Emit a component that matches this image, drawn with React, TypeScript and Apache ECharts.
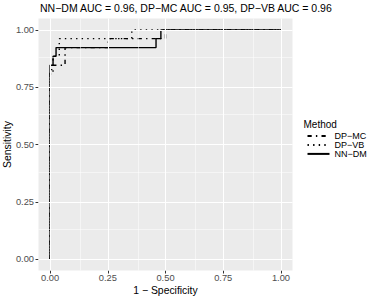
import React, { useEffect, useRef } from "react";
import * as echarts from "echarts";

// ROC curves: 1 - specificity (FPR) and sensitivity (TPR)
const nnDmFpr = [0, 0, 0.013, 0.013, 0.026, 0.026, 0.459, 0.459, 0.48, 0.48, 1];
const nnDmTpr = [0, 0.846, 0.846, 0.885, 0.885, 0.923, 0.923, 0.962, 0.962, 1, 1];

const dpMcFpr = [0, 0, 0.013, 0.013, 0.065, 0.065, 0.252, 0.252, 0.5, 0.5, 1];
const dpMcTpr = [0, 0.808, 0.808, 0.846, 0.846, 0.923, 0.923, 0.962, 0.962, 1, 1];

const dpVbFpr = [0, 0, 0.013, 0.013, 0.04, 0.04, 0.354, 0.354, 1];
const dpVbTpr = [0, 0.827, 0.827, 0.885, 0.885, 0.962, 0.962, 1, 1];

const methods = ["DP\u2212MC", "DP\u2212VB", "NN\u2212DM"];
const titleText = "NN\u2212DM AUC = 0.96, DP\u2212MC AUC = 0.95, DP\u2212VB AUC = 0.96";
const majorTicks = [0, 0.25, 0.5, 0.75, 1];
const minorTicks = [0.125, 0.375, 0.625, 0.875];

const FONT = "'Liberation Sans', Arial, Helvetica, sans-serif";

function pairs(xs: number[], ys: number[]) {
  return xs.map((x, i) => [x, ys[i]]);
}

export default function App() {
  const ref = useRef<HTMLDivElement>(null);
  useEffect(() => {
    document.body.style.margin = "0";
    if (!ref.current) return;
    const chart = echarts.init(ref.current, null, { renderer: "svg" });
    const lw = 1.4;
    const axisCommon = {
      type: "value",
      min: -0.05,
      max: 1.05,
      axisLine: { show: false, onZero: false },
      axisTick: {
        show: true,
        customValues: majorTicks,
        length: 3,
        lineStyle: { color: "#333333", width: 1 },
      },
      splitLine: { show: false },
    };
    const gridLines = [
      ...majorTicks.map((v) => ({ xAxis: v, lineStyle: { width: 1.07 } })),
      ...majorTicks.map((v) => ({ yAxis: v, lineStyle: { width: 1.07 } })),
      ...minorTicks.map((v) => ({ xAxis: v, lineStyle: { width: 0.53 } })),
      ...minorTicks.map((v) => ({ yAxis: v, lineStyle: { width: 0.53 } })),
    ];
    chart.setOption({
      animation: false,
      textStyle: { fontFamily: FONT },
      title: [
        {
          text: titleText,
          left: 40,
          top: 2.5,
          padding: 0,
          textStyle: { fontSize: 10.5, fontWeight: "normal", color: "#000", fontFamily: FONT },
        },
        {
          text: "Method",
          left: 303.5,
          top: 119,
          padding: 0,
          textStyle: { fontSize: 10, fontWeight: "normal", color: "#000", fontFamily: FONT },
        },
      ],
      grid: {
        left: 38.5,
        right: 89.5,
        top: 18.5,
        bottom: 29.5,
        show: true,
        backgroundColor: "#EBEBEB",
        borderWidth: 0,
        containLabel: false,
      },
      xAxis: {
        ...axisCommon,
        axisLabel: {
          customValues: majorTicks,
          formatter: (v: number) => v.toFixed(2),
          color: "#4D4D4D",
          fontSize: 9.3,
          margin: 3,
          fontFamily: FONT,
        },
      },
      yAxis: {
        ...axisCommon,
        axisLabel: {
          customValues: majorTicks,
          formatter: (v: number) => v.toFixed(2),
          color: "#4D4D4D",
          fontSize: 9.3,
          margin: 4.5,
          fontFamily: FONT,
        },
      },
      legend: {
        orient: "vertical",
        left: 306.5,
        top: 131.4,
        padding: 0,
        itemWidth: 22,
        itemHeight: 8.7,
        itemGap: 0,
        data: methods,
        itemStyle: { opacity: 0, borderWidth: 0 },
        textStyle: { fontSize: 9, color: "#000", fontFamily: FONT, lineHeight: 8.7 },
        selectedMode: false,
      },
      graphic: [
        {
          type: "text",
          x: 7,
          y: 144.5,
          rotation: Math.PI / 2,
          style: {
            text: "Sensitivity",
            fontSize: 10.4,
            fontFamily: FONT,
            fill: "#000",
            align: "center",
            verticalAlign: "middle",
          },
        },
        {
          type: "text",
          x: 165.5,
          y: 290,
          style: {
            text: "1 \u2212 Specificity",
            fontSize: 10.4,
            fontFamily: FONT,
            fill: "#000",
            align: "center",
            verticalAlign: "middle",
          },
        },
      ],
      series: [
        {
          name: "grid",
          type: "line",
          data: [],
          z: 1,
          silent: true,
          markLine: {
            silent: true,
            symbol: ["none", "none"],
            label: { show: false },
            lineStyle: { color: "#FFFFFF", type: "solid", width: 1 },
            data: gridLines,
          },
        },
        {
          name: methods[0],
          type: "line",
          data: pairs(dpMcFpr, dpMcTpr),
          showSymbol: false,
          symbol: "none",
          z: 3,
          lineStyle: { color: "#000", width: lw, type: [4.2, 4.2, 1.4, 4.2], cap: "butt" },
          itemStyle: { color: "#000" },
        },
        {
          name: methods[1],
          type: "line",
          data: pairs(dpVbFpr, dpVbTpr),
          showSymbol: false,
          symbol: "none",
          z: 3,
          lineStyle: { color: "#000", width: lw, type: [1.4, 4.2], cap: "butt" },
          itemStyle: { color: "#000" },
        },
        {
          name: methods[2],
          type: "line",
          data: pairs(nnDmFpr, nnDmTpr),
          showSymbol: false,
          symbol: "none",
          z: 3,
          lineStyle: { color: "#000", width: lw, type: "solid" },
          itemStyle: { color: "#000" },
        },
      ],
    });
    return () => chart.dispose();
  }, []);
  return <div ref={ref} style={{ width: 382, height: 300 }} />;
}
